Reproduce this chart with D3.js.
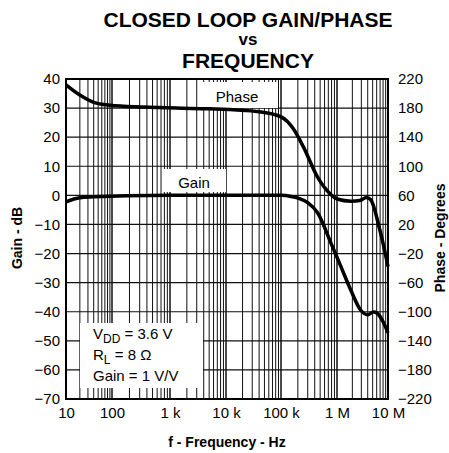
<!DOCTYPE html>
<html>
<head>
<meta charset="utf-8">
<script src="https://cdn.jsdelivr.net/npm/d3@7/dist/d3.min.js"></script>
<style>
  body { margin: 0; background: #fff; }
  text { font-family: "Liberation Sans", Arial, sans-serif; fill: #000; }
  .axis path { display: none; }
  .axis text { font-size: 15px; }
</style>
</head>
<body>
<div id="chart"></div>
<script>
// values
var gainFreq = [10, 20, 40, 180, 1e3, 1e4, 1e5, 1.6e5, 2.2e5, 3e5, 4.5e5, 7.8e5, 1.2e6, 1.86e6, 2.9e6, 4e6, 5.2e6, 6e6, 8.2e6, 1e7];
var gainDb   = [-2.2, -0.8, -0.5, -0.1, 0, 0, 0, -0.5, -1.2, -2.5, -6, -16.4, -24.6, -32.5, -39.4, -41, -40.1, -40.4, -43.8, -47.3];

var phaseFreq = [10, 20, 40, 90, 350, 1.3e3, 5e3, 4e4, 1e5, 1.65e5, 2.5e5, 4.5e5, 7.8e5, 1e6, 1.9e6, 2.8e6, 3.8e6, 4.6e6, 5.5e6, 6.5e6, 7.7e6, 1e7];
var phaseDeg  = [212, 198, 188, 184, 181.5, 180, 179, 175, 168, 152, 127, 85, 61, 55, 52, 53, 57, 54, 40, 20, -1, -38];

var gainTicks  = [40, 30, 20, 10, 0, -10, -20, -30, -40, -50, -60, -70];
var phaseTicks = [220, 180, 140, 100, 60, 20, -20, -60, -100, -140, -180, -220];
var freqTicks  = [10, 100, 1e3, 1e4, 1e5, 1e6, 1e7];
var freqLabels = ["10", "100", "1 k", "10 k", "100 k", "1 M", "10 M"];

// Set Margins
var margin = {left: 66, top: 79};
var width = 322, height = 320;

var svg = d3.select("#chart").append("svg")
    .attr("width", 449)
    .attr("height", 453);

// title
var title = ["CLOSED LOOP GAIN/PHASE", "vs", "FREQUENCY"];
svg.selectAll(".title")
    .data(title)
  .enter().append("text")
    .attr("class", "title")
    .attr("x", 248)
    .attr("y", function(d, i) { return [27, 45, 68][i]; })
    .attr("text-anchor", "middle")
    .style("font-weight", "bold")
    .style("font-size", function(d, i) { return i == 1 ? "17px" : "21px"; })
    .text(function(d) { return d; });

var g = svg.append("g")
    .attr("transform", "translate(" + margin.left + "," + margin.top + ")");

// the hand drawn log grid is not quite even, so each decade gets its own stop
var xScale = d3.scaleLog()
    .domain(freqTicks)
    .range([0, 46, 104, 160, 215, 271, 322]);

var yGain = d3.scaleLinear()
    .domain([-70, 40])
    .range([height, 0]);

var yPhase = d3.scaleLinear()
    .domain([-220, 220])
    .range([height, 0]);

// grid
var minor = [];
for (var e = 1; e < 7; e++) {
  for (var k = 1; k <= 10; k++) minor.push(k * Math.pow(10, e));
}

g.selectAll(".vgrid")
    .data(minor)
  .enter().append("line")
    .attr("class", "vgrid")
    .attr("x1", function(d) { return xScale(d); })
    .attr("x2", function(d) { return xScale(d); })
    .attr("y1", 0)
    .attr("y2", height)
    .attr("stroke", "#111")
    .attr("stroke-width", 1);

g.selectAll(".hgrid")
    .data(gainTicks)
  .enter().append("line")
    .attr("class", "hgrid")
    .attr("x1", 0)
    .attr("x2", width)
    .attr("y1", function(d) { return yGain(d); })
    .attr("y2", function(d) { return yGain(d); })
    .attr("stroke", "#111")
    .attr("stroke-width", 1.2);

// white label boxes over the grid
g.append("rect").attr("x", 137).attr("y", 3).attr("width", 75).attr("height", 26).attr("fill", "#fff");
g.append("rect").attr("x", 96).attr("y", 90).attr("width", 64).attr("height", 23).attr("fill", "#fff");
g.append("rect").attr("x", 14).attr("y", 244).attr("width", 123).attr("height", 65).attr("fill", "#fff");

g.append("text")
    .attr("x", 171).attr("y", 23)
    .attr("text-anchor", "middle")
    .style("font-size", "15px")
    .text("Phase");

g.append("text")
    .attr("x", 128).attr("y", 109)
    .attr("text-anchor", "middle")
    .style("font-size", "15px")
    .text("Gain");

var note = g.append("text")
    .attr("x", 27)
    .style("font-size", "15px");
var l1 = note.append("tspan").attr("x", 27).attr("y", 260);
l1.append("tspan").text("V");
l1.append("tspan").attr("dy", 4).style("font-size", "12px").text("DD");
l1.append("tspan").attr("dy", -4).text(" = 3.6 V");
var l2 = note.append("tspan").attr("x", 27).attr("y", 281);
l2.append("tspan").text("R");
l2.append("tspan").attr("dy", 4).style("font-size", "12px").text("L");
l2.append("tspan").attr("dy", -4).text(" = 8 \u03A9");
note.append("tspan").attr("x", 27).attr("y", 302).text("Gain = 1 V/V");

// curves
var gainLine = d3.line()
    .x(function(d, i) { return xScale(gainFreq[i]); })
    .y(function(d) { return yGain(d); })
    .curve(d3.curveMonotoneX);

var phaseLine = d3.line()
    .x(function(d, i) { return xScale(phaseFreq[i]); })
    .y(function(d) { return yPhase(d); })
    .curve(d3.curveMonotoneX);

g.append("path")
    .datum(gainDb)
    .attr("d", gainLine)
    .attr("fill", "none")
    .attr("stroke", "#000")
    .attr("stroke-width", 3.5);

g.append("path")
    .datum(phaseDeg)
    .attr("d", phaseLine)
    .attr("fill", "none")
    .attr("stroke", "#000")
    .attr("stroke-width", 3.5);

// frame
g.append("rect")
    .attr("width", width)
    .attr("height", height)
    .attr("fill", "none")
    .attr("stroke", "#000")
    .attr("stroke-width", 2);

// axes
g.append("g")
    .attr("class", "axis")
    .call(d3.axisLeft(yGain).tickValues(gainTicks).tickSize(0).tickPadding(6));

g.append("g")
    .attr("class", "axis")
    .attr("transform", "translate(" + width + ",0)")
    .call(d3.axisRight(yPhase).tickValues(phaseTicks).tickSize(0).tickPadding(10));

g.append("g")
    .attr("class", "axis")
    .attr("transform", "translate(0," + height + ")")
    .call(d3.axisBottom(xScale).tickValues(freqTicks)
      .tickFormat(function(d, i) { return freqLabels[i]; })
      .tickSize(0).tickPadding(8));

// axis titles
svg.append("text")
    .attr("transform", "rotate(-90)")
    .attr("x", -238)
    .attr("y", 22)
    .attr("text-anchor", "middle")
    .style("font-weight", "bold")
    .style("font-size", "14px")
    .text("Gain - dB");

svg.append("text")
    .attr("transform", "rotate(-90)")
    .attr("x", -238)
    .attr("y", 445)
    .attr("text-anchor", "middle")
    .style("font-weight", "bold")
    .style("font-size", "14px")
    .text("Phase - Degrees");

svg.append("text")
    .attr("x", 227)
    .attr("y", 447)
    .attr("text-anchor", "middle")
    .style("font-weight", "bold")
    .style("font-size", "14px")
    .text("f - Frequency - Hz");
</script>
</body>
</html>
